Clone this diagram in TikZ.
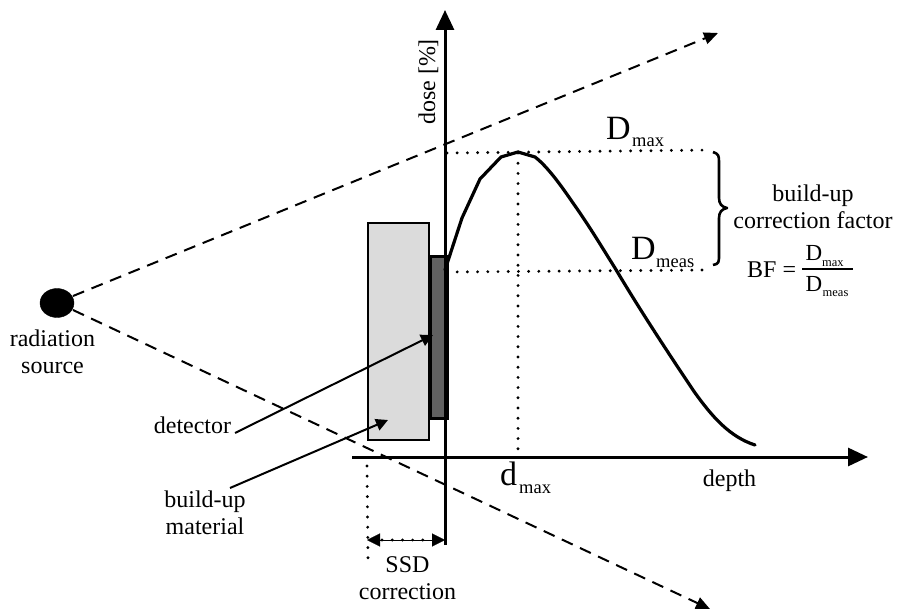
\documentclass[tikz,border=0pt]{standalone}
\usepackage{fontspec}
\setmainfont{Liberation Serif}
\usetikzlibrary{arrows.meta,shapes.geometric}
\tikzset{
  lbl/.style={inner sep=0pt,align=center,font=\fontsize{24}{27}\selectfont},
  big/.style={inner sep=0pt,font=\fontsize{34}{36}\selectfont},
  sub/.style={inner sep=0pt,font=\fontsize{18.5}{22}\selectfont},
  fnum/.style={inner sep=0pt,font=\fontsize{23}{26}\selectfont},
  fsub/.style={inner sep=0pt,font=\fontsize{12.5}{14}\selectfont},
  axis/.style={line width=3pt,-{Triangle[length=20pt,width=18pt]}},
  dashl/.style={line width=2pt,dash pattern=on 12pt off 8pt,-{Triangle[length=14pt,width=12pt]}},
  dots/.style={line width=3.2pt,line cap=round,dash pattern=on 0pt off 10.2pt},
  lead/.style={line width=2pt,-{Triangle[length=12pt,width=12pt]}}
}
\begin{document}
\begin{tikzpicture}[x=1pt,y=-1pt]
\useasboundingbox (0,0) rectangle (897,609);
% boxes
\node[draw=black,line width=2pt,fill=black!14,minimum width=61pt,minimum height=217pt,inner sep=0pt,anchor=north west] (buildup) at (367,222) {};
\node[draw=black,line width=3pt,fill=black!62,minimum width=17pt,minimum height=162pt,inner sep=0pt,anchor=north west] (det) at (428.5,255) {};
% coordinates
\coordinate (src) at (57,303);
\coordinate (vb) at (445,545); \coordinate (vt) at (445,10);
\coordinate (hl) at (352,457); \coordinate (hr) at (868,457);
\coordinate (d1) at (718,33); \coordinate (d2) at (710,609);
\coordinate (dmT) at (447,153); \coordinate (dmE) at (712,150);
\coordinate (dmsT) at (447,272); \coordinate (dmsE) at (710,270);
\coordinate (pk) at (518,153); \coordinate (pkb) at (518,457);
\coordinate (ssdT) at (367,466); \coordinate (ssdB) at (368,560);
\coordinate (ssdL) at (367,540); \coordinate (ssdR) at (445,540);
\coordinate (detS) at (235,433); \coordinate (detE) at (433,335);
\coordinate (bmS) at (230,488); \coordinate (bmE) at (388,420);
% source
\node[draw=black,fill=black,ellipse,minimum width=34pt,minimum height=29pt,inner sep=0pt] (source) at (src) {};
% dashed rays
\draw[dashl] (source.center) ++(16,-7) -- (d1);
\draw[dashl] (source.center) ++(16,7) -- (d2);
% axes
\draw[axis] (vb) -- (vt);
\draw[axis] (hl) -- (hr);
% dotted
\draw[dots] (dmT) -- (dmE);
\draw[dots] (dmsT) -- (dmsE);
\draw[dots] (pk) -- (pkb);
\draw[dots] (ssdT) -- (ssdB);
\draw[dots] (382,540) -- (432,540);
\draw[line width=0.1pt,{Triangle[length=13pt,width=13pt]}-{Triangle[length=13pt,width=13pt]}] (ssdL) -- (ssdR);
% curve
\draw[line width=3.2pt,line join=round,line cap=round] (445,270) -- (462,218) -- (480,179) -- (501,157) -- (518,152) -- (535,157) .. controls (548,167) and (562,187) .. (573,203) .. controls (590,227) and (603,249) .. (615,268) .. controls (640,310) and (665,348) .. (693,390) .. controls (712,417) and (730,437) .. (755,445);
% leaders
\draw[lead] (detS) -- (detE);
\draw[lead] (bmS) -- (bmE);
% brace
\draw[line width=2.6pt,line join=round] (713,152) .. controls (719,154) and (719,156) .. (719,163) -- (719,198) .. controls (719,204) and (722,207) .. (727,208) .. controls (722,209) and (719,212) .. (719,218) -- (719,255) .. controls (719,262) and (719,264) .. (713,265);
% labels
\node[lbl] (srclab) at (52.5,351.5) {radiation\\source};
\node[lbl,rotate=90,anchor=base] (doselab) at (435,82) {dose [\%]};
\node[lbl,anchor=base] (detlab) at (192.5,434) {detector};
\node[lbl] (bmlab) at (205,512.5) {build-up\\material};
\node[lbl] (ssdlab) at (407.5,578.5) {SSD\\correction};
\node[lbl,anchor=base] (deplab) at (729.5,486) {depth};
\node[lbl] (bulab) at (813,207) {build-up\\correction factor};
\node[big,anchor=base west] (Dmax) at (606,140) {D};
\node[sub,anchor=base west] (Dmaxs) at (632,147) {max};
\node[big,anchor=base west] (Dmeas) at (631,260) {D};
\node[sub,anchor=base west] (Dmeass) at (656,268) {meas};
\node[big,anchor=base west] (dm) at (500,485) {d};
\node[sub,anchor=base west] (dms) at (519,493) {max};
% formula
\node[lbl,anchor=base west] (bf) at (747,278) {BF =};
\draw[line width=1.2pt] (802,269) -- (853,269);
\node[fnum,anchor=base west] (n1) at (805.5,261) {D};
\node[fsub,anchor=base west] (n2) at (822,266.5) {max};
\node[fnum,anchor=base west] (d1n) at (805.5,292) {D};
\node[fsub,anchor=base west] (d2n) at (822.5,297) {meas};
\end{tikzpicture}
\end{document}
